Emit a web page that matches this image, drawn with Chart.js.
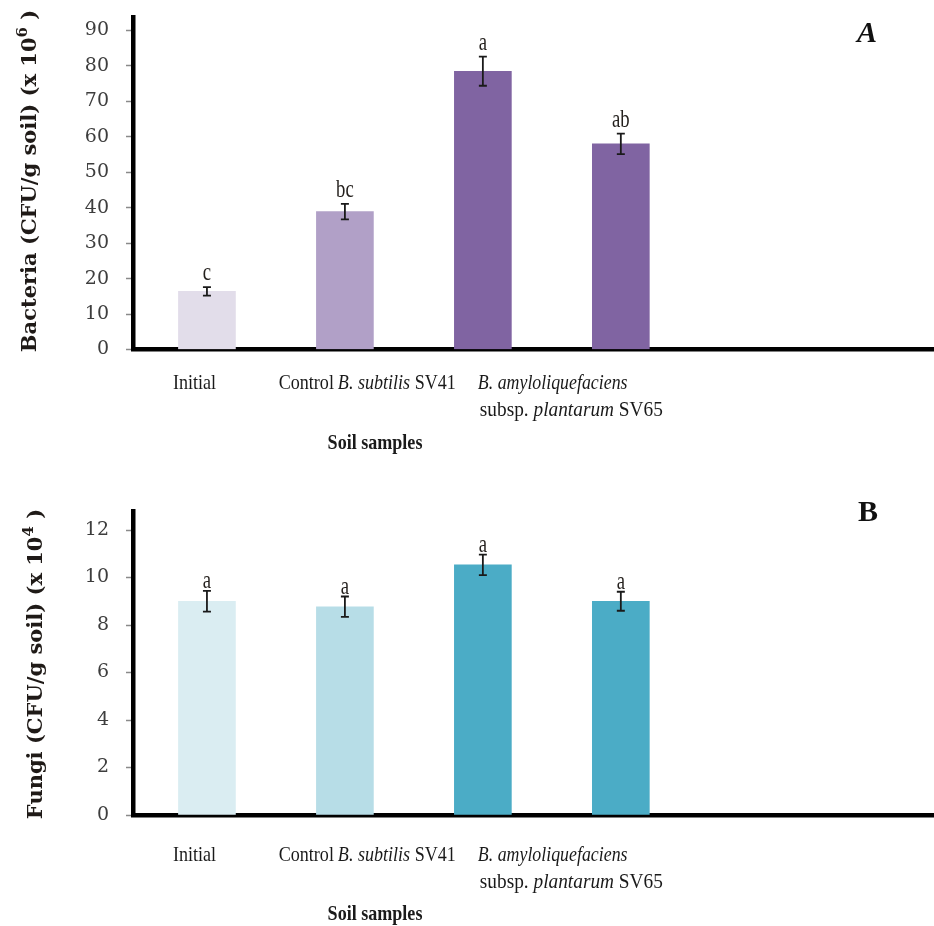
<!DOCTYPE html>
<html><head><meta charset="utf-8">
<script src="https://cdn.jsdelivr.net/npm/chart.js@4.4.1/dist/chart.umd.min.js"></script>
<style>
html,body{margin:0;padding:0;background:#fff;overflow:hidden;width:934px;height:926px}
.p{position:absolute;left:0;width:934px}
#w1{top:0;height:470px}
#w2{top:470px;height:456px}
</style></head><body>
<div class="p" id="w1"><canvas id="c1"></canvas></div>
<div class="p" id="w2"><canvas id="c2"></canvas></div>
<script>
// ---- data ----
const categories = ['Initial', 'Control', 'B. subtilis SV41', 'B. amyloliquefaciens subsp. plantarum SV65'];
// rich category labels: lines of [text, italic]
const categoryLines = [
  [[['Initial', false]]],
  [[['Control', false]]],
  [[['B. subtilis', true], [' SV41', false]]],
  [[['B. amyloliquefaciens', true]], [['subsp. ', false], ['plantarum', true], [' SV65', false]]]
];
const xAxisTitle = 'Soil samples';

const bacteriaValues = [16.4, 38.9, 78.5, 58.0];
const bacteriaErrors = [1.2, 2.2, 4.1, 2.9];
const bacteriaLetters = ['c', 'bc', 'a', 'ab'];
const bacteriaTicks = [0, 10, 20, 30, 40, 50, 60, 70, 80, 90];
const bacteriaTitle = [['Bacteria (CFU/g soil) (x 10', false], ['6', true], [' )', false]];

const fungiValues = [9.0, 8.77, 10.53, 9.0];
const fungiErrors = [0.44, 0.43, 0.43, 0.4];
const fungiLetters = ['a', 'a', 'a', 'a'];
const fungiTicks = [0, 2, 4, 6, 8, 10, 12];
const fungiTitle = [['Fungi (CFU/g soil) (x 10', false], ['4', true], [' )', false]];

// ---- drawing helpers ----
function richWidth(ctx, segs, size, bold) {
  let w = 0;
  segs.forEach(([t, it]) => {
    ctx.font = (it ? 'italic ' : '') + (bold ? 'bold ' : '') + size + 'px "Liberation Serif"';
    w += ctx.measureText(t).width;
  });
  return w;
}
function drawRich(ctx, segs, x, y, size, bold, sx, align) {
  ctx.save();
  const w = richWidth(ctx, segs, size, bold) * sx;
  const x0 = align === 'right' ? x - w : x;
  ctx.translate(x0, y); ctx.scale(sx, 1);
  ctx.textBaseline = 'middle'; ctx.textAlign = 'left';
  let cx = 0;
  segs.forEach(([t, it]) => {
    ctx.font = (it ? 'italic ' : '') + (bold ? 'bold ' : '') + size + 'px "Liberation Serif"';
    ctx.fillText(t, cx, 0);
    cx += ctx.measureText(t).width;
  });
  ctx.restore();
}
function drawRotTitle(ctx, parts, bx, cy) {
  const mainF = 'bold 21px "DejaVu Serif"', supF = 'bold 15px "DejaVu Serif"';
  ctx.save();
  ctx.translate(bx, cy); ctx.rotate(-Math.PI / 2);
  let total = 0;
  parts.forEach(([t, sup]) => { ctx.font = sup ? supF : mainF; total += ctx.measureText(t).width; });
  let x = -total / 2;
  ctx.textBaseline = 'alphabetic'; ctx.textAlign = 'left';
  parts.forEach(([t, sup]) => {
    ctx.font = sup ? supF : mainF;
    ctx.fillText(t, x, sup ? -9 : 0);
    x += ctx.measureText(t).width;
  });
  ctx.restore();
}

const decor = {
  id: 'decor',
  afterDraw(chart, args, o) {
    const ctx = chart.ctx, xs = chart.scales.x, ys = chart.scales.y, ca = chart.chartArea;
    ctx.save();
    // error bars and letters
    o.values.forEach((v, i) => {
      const x = xs.getPixelForValue(i);
      const yt = ys.getPixelForValue(v + o.errors[i]);
      const yb = ys.getPixelForValue(v - o.errors[i]);
      ctx.strokeStyle = '#1a1a1a'; ctx.lineWidth = 1.8;
      ctx.beginPath();
      ctx.moveTo(x, yt); ctx.lineTo(x, yb);
      ctx.moveTo(x - 4, yt); ctx.lineTo(x + 4, yt);
      ctx.moveTo(x - 4, yb); ctx.lineTo(x + 4, yb);
      ctx.stroke();
      ctx.save();
      ctx.translate(x, yt - o.letterGap);
      ctx.scale(0.72, 1);
      ctx.font = '26px "Liberation Serif"';
      ctx.fillStyle = '#231f1c';
      ctx.textAlign = 'center'; ctx.textBaseline = 'alphabetic';
      ctx.fillText(o.letters[i], 0, 0);
      ctx.restore();
    });
    // category labels
    ctx.fillStyle = '#1a1a1a';
    categoryLines.forEach((lines, i) => {
      const x = xs.getPixelForValue(i);
      lines.forEach((segs, j) => {
        const [dx, align, sx] = o.labelAnchor[i][j];
        drawRich(ctx, segs, x + dx, ca.bottom + o.line1Dy + j * 27, 21, false, sx, align);
      });
    });
    // x title
    ctx.save();
    ctx.translate(o.xTitleX, ca.bottom + o.xTitleDy); ctx.scale(0.86, 1);
    ctx.font = 'bold 21px "Liberation Serif"';
    ctx.textAlign = 'center'; ctx.textBaseline = 'middle';
    ctx.fillText(xAxisTitle, 0, 0);
    ctx.restore();
    // y title
    ctx.fillStyle = '#1f1a17';
    drawRotTitle(ctx, o.yTitle, o.yTitleX, o.yTitleY);
    // panel letter
    ctx.font = o.panelFont;
    ctx.fillStyle = '#111';
    ctx.textAlign = 'center'; ctx.textBaseline = 'middle';
    ctx.fillText(o.panel, o.panelX, o.panelY);
    ctx.restore();
  }
};

const anchors = [[[-34, 'left', 0.86]], [[-11, 'right', 0.86]], [[-145, 'left', 0.86]], [[-143, 'left', 0.85], [-141, 'left', 0.92]]];

function makeChart(id, values, errors, letters, ticks, colors, ymax, pad, extra) {
  return new Chart(document.getElementById(id), {
    type: 'bar',
    data: {
      datasets: [{
        data: values.map((v, i) => ({ x: i, y: v })),
        backgroundColor: colors,
        borderWidth: 0,
        barThickness: 57
      }]
    },
    options: {
      responsive: true, maintainAspectRatio: false, animation: false,
      layout: { padding: pad },
      plugins: {
        legend: { display: false }, tooltip: { enabled: false },
        decor: Object.assign({ values, errors, letters, labelAnchor: anchors }, extra)
      },
      scales: {
        x: {
          type: 'linear', min: -0.536, max: 5.27, z: 1, offset: false,
          grid: { display: false, offset: false },
          ticks: { display: false },
          border: { display: true, color: '#000', width: 4.5 },
          afterFit: s => { s.height = 0; s.paddingLeft = 0; s.paddingRight = 0; }
        },
        y: {
          min: 0, max: ymax, z: 1,
          afterBuildTicks: s => { s.ticks = ticks.map(v => ({ value: v })); },
          afterFit: s => { s.width = 133; s.paddingTop = 0; s.paddingBottom = 0; },
          grid: { display: true, drawOnChartArea: false, drawTicks: true, tickLength: 7, tickColor: '#8a8a8a', tickWidth: 1.5 },
          border: { display: true, color: '#000', width: 4.5 },
          ticks: { padding: 17, color: '#3d3d3d', font: { family: 'DejaVu Serif', size: 19 } }
        }
      }
    },
    plugins: [decor]
  });
}

makeChart('c1', bacteriaValues, bacteriaErrors, bacteriaLetters, bacteriaTicks,
  ['#e2ddea', '#b1a0c7', '#8064a2', '#8064a2'], 93.65,
  { top: 17.5, left: 0, right: 0, bottom: 120.5 },
  { letterGap: 7, line1Dy: 34, xTitleDy: 94, xTitleX: 375,
    yTitle: bacteriaTitle, yTitleX: 36, yTitleY: 181, panel: 'A', panelFont: 'bold italic 30px "Liberation Serif"', panelX: 867, panelY: 34 });

makeChart('c2', fungiValues, fungiErrors, fungiLetters, fungiTicks,
  ['#daedf2', '#b7dde7', '#4bacc6', '#4bacc6'], 12.8,
  { top: 41, left: 0, right: 0, bottom: 111 },
  { letterGap: 3, line1Dy: 40, xTitleDy: 100, xTitleX: 375,
    yTitle: fungiTitle, yTitleX: 42, yTitleY: 194, panel: 'B', panelFont: 'bold 30px "Liberation Serif"', panelX: 868, panelY: 43 });
</script>
</body></html>
